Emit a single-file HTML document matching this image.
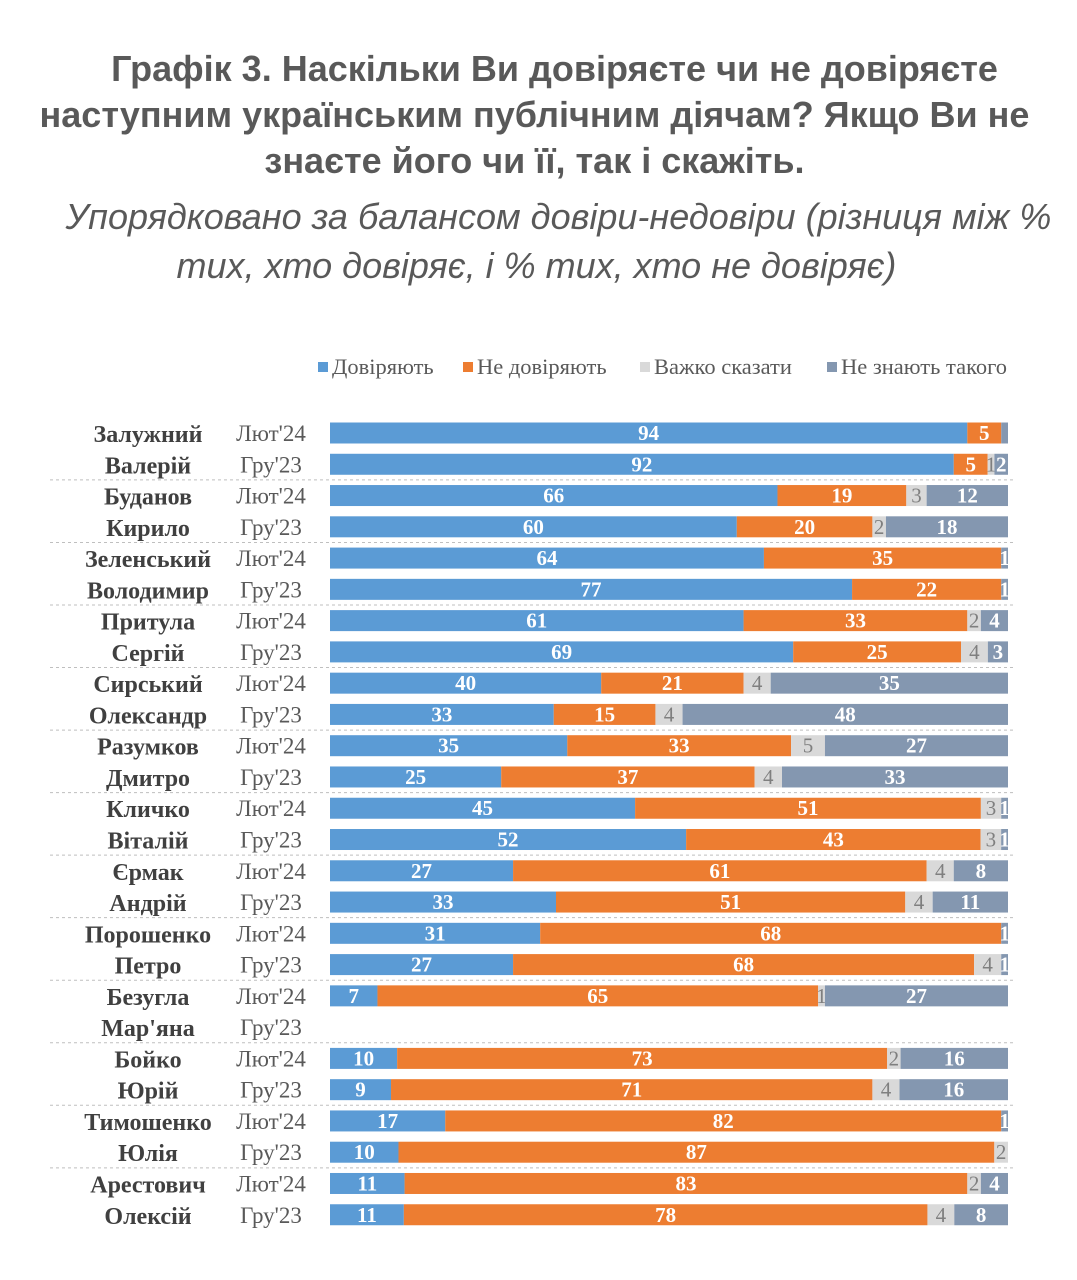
<!DOCTYPE html>
<html><head><meta charset="utf-8">
<style>
body{margin:0;background:#fff;width:1077px;height:1280px;overflow:hidden;font-family:"Liberation Sans",sans-serif}
.t{position:absolute;width:1077px;text-align:center;color:#595959;white-space:nowrap}
#title{top:46px;font-weight:bold;font-size:36px;line-height:46px;left:-4px}
.sub{font-style:italic;font-size:36px;line-height:49px}
</style></head><body>
<div class="t" id="title">&nbsp;&nbsp;&nbsp;&nbsp;Графік 3. Наскільки Ви довіряєте чи не довіряєте<br>наступним українським публічним діячам? Якщо Ви не<br>знаєте його чи її, так і скажіть.</div>
<div class="t sub" style="top:192px;left:20px">Упорядковано за балансом довіри-недовіри (різниця між %</div>
<div class="t sub" style="top:241px;left:-2px">тих, хто довіряє, і % тих, хто не довіряє)</div>
<svg id="c" width="1077" height="1280" style="position:absolute;left:0;top:0"></svg>
<script>
const lastNames=["Залужний","Буданов","Зеленський","Притула","Сирський","Разумков","Кличко","Єрмак","Порошенко","Безугла","Бойко","Тимошенко","Арестович"];
const firstNames=["Валерій","Кирило","Володимир","Сергій","Олександр","Дмитро","Віталій","Андрій","Петро","Мар'яна","Юрій","Юлія","Олексій"];
const periods=["Лют'24","Гру'23"];
const seriesNames=["Довіряють","Не довіряють","Важко сказати","Не знають такого"];
const feb24=[[94,5,0,1],[66,19,3,12],[64,35,0,1],[61,33,2,4],[40,21,4,35],[35,33,5,27],[45,51,3,1],[27,61,4,8],[31,68,0,1],[7,65,1,27],[10,73,2,16],[17,82,0,1],[11,83,2,4]];
const dec23=[[92,5,1,2],[60,20,2,18],[77,22,0,1],[69,25,4,3],[33,15,4,48],[25,37,4,33],[52,43,3,1],[33,51,4,11],[27,68,4,1],null,[9,71,4,16],[10,87,2,0],[11,78,4,8]];
const colors=["#5b9bd5","#ed7d31","#d9d9d9","#8497b0"];
const svg=document.getElementById('c');const NS="http://www.w3.org/2000/svg";
function mk(t,a,txt){const e=document.createElementNS(NS,t);for(const k in a)e.setAttribute(k,a[k]);if(txt!=null)e.textContent=txt;svg.appendChild(e);return e;}
const x0=330,x1=1008,y0=433,step=31.27,bh=21;
function xs(v,tot){return (v/tot)*(x1-x0);}
function rowY(i){return y0+i*step;}
let lx=[318,463,640,827];
seriesNames.forEach((n,i)=>{
 const r=mk('rect',{x:lx[i],y:362,width:10,height:10,fill:colors[i]});
 
 const t=mk('text',{x:lx[i]+14,y:374,'font-family':'Liberation Serif,serif','font-size':22.5,fill:'#595959'},n);
 
});
lastNames.forEach((ln,g)=>{
 [feb24[g],dec23[g]].forEach((vals,k)=>{
  const r=g*2+k,cy=rowY(r);
  const nm=mk('text',{x:148,y:cy+9,'text-anchor':'middle','font-family':'Liberation Serif,serif','font-weight':'bold','font-size':24,fill:'#404040'},k?firstNames[g]:ln);
  
  const pd=mk('text',{x:271,y:cy+8,'text-anchor':'middle','font-family':'Liberation Serif,serif','font-size':23,fill:'#595959'},periods[k]);
  
  if(!vals)return;
  const tot=vals.reduce((a,b)=>a+b,0);let cx=x0;
  vals.forEach((v,s)=>{
   if(v<=0)return;const w=xs(v,tot);
   const b=mk('rect',{x:cx,y:cy-bh/2,width:w,height:bh,fill:colors[s]});
   
   if(!(r==0&&s==3)){
   const lab=mk('text',{x:cx+w/2,y:cy+7,'text-anchor':'middle','font-family':'Liberation Serif,serif','font-weight':s==2?'normal':'bold','font-size':21,fill:s==2?'#7f7f7f':'#fff'},String(v));
   }
   cx+=w;
  });
 });
 if(g<lastNames.length-1){
  const y=rowY(g*2+1)+step/2;
  const l=mk('line',{x1:50,x2:1015,y1:y,y2:y,stroke:'#bfbfbf','stroke-width':1,'stroke-dasharray':'3,3'});
  
 }
});
</script>
</body></html>
